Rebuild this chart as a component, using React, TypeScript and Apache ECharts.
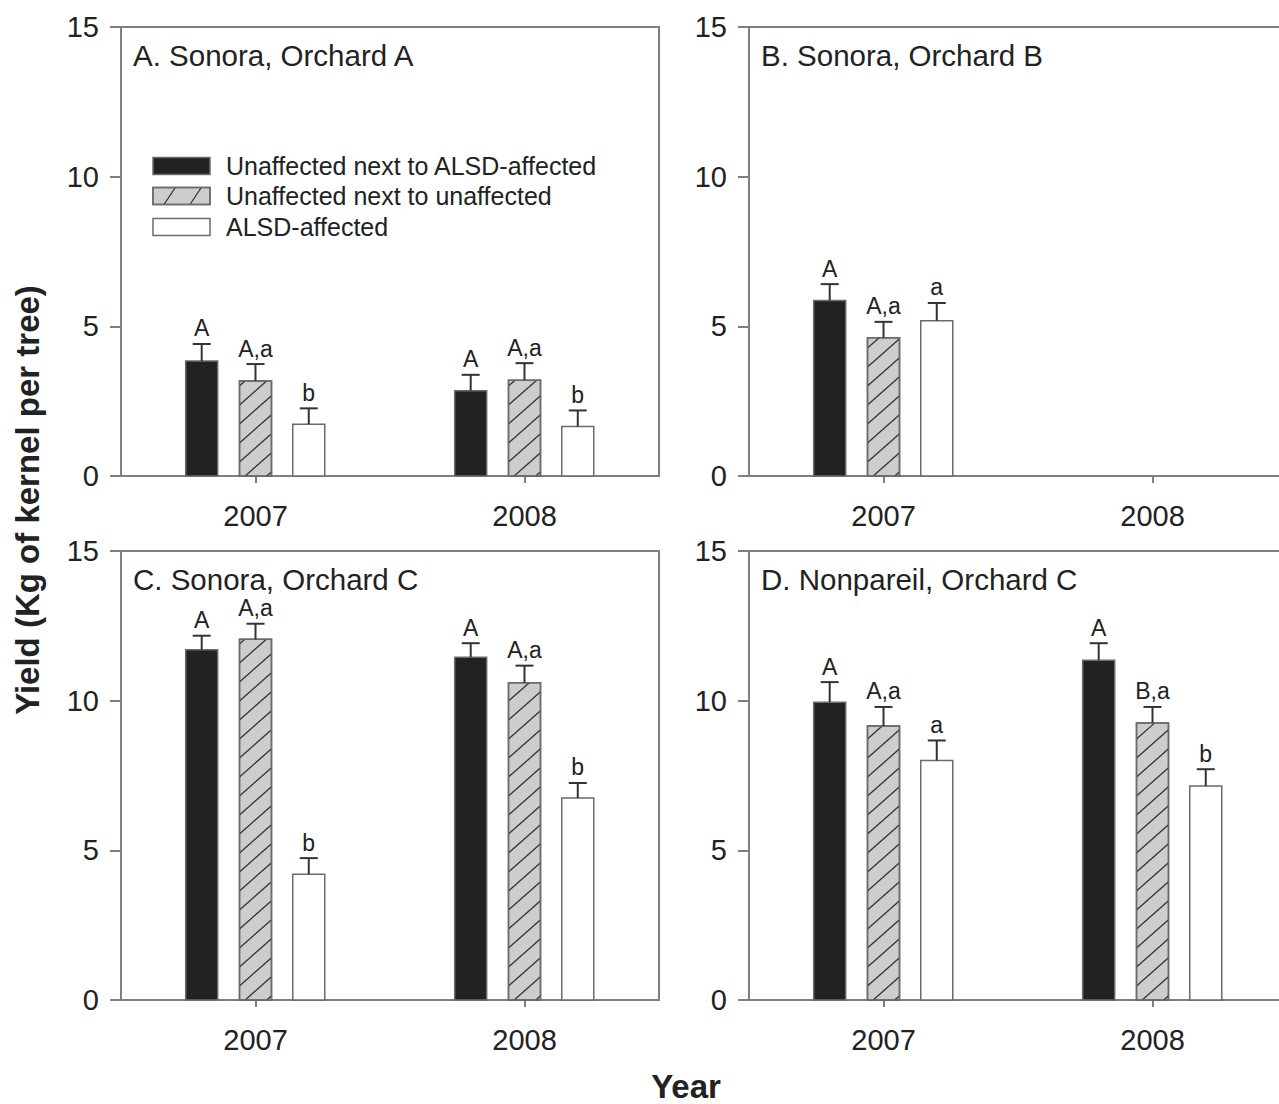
import React, { useEffect, useRef } from "react";
import * as echarts from "echarts";

const years = ["2007", "2008"];
const treatments = [
  "Unaffected next to ALSD-affected",
  "Unaffected next to unaffected",
  "ALSD-affected",
];
const panelTitles = [
  "A. Sonora, Orchard A",
  "B. Sonora, Orchard B",
  "C. Sonora, Orchard C",
  "D. Nonpareil, Orchard C",
];
const yMin = 0;
const yMax = 15;
const yInterval = 5;

// rows: treatment, columns: year
const aMeans = [[3.84, 2.85], [3.17, 3.2], [1.73, 1.65]];
const aErrors = [[0.57, 0.53], [0.57, 0.57], [0.53, 0.54]];
const aLetters = [["A", "A"], ["A,a", "A,a"], ["b", "b"]];

const bMeans = [[5.86, null], [4.62, null], [5.19, null]];
const bErrors = [[0.55, null], [0.53, null], [0.59, null]];
const bLetters = [["A", ""], ["A,a", ""], ["a", ""]];

const cMeans = [[11.7, 11.45], [12.05, 10.6], [4.2, 6.75]];
const cErrors = [[0.47, 0.47], [0.52, 0.57], [0.54, 0.5]];
const cLetters = [["A", "A"], ["A,a", "A,a"], ["b", "b"]];

const dMeans = [[9.95, 11.35], [9.15, 9.25], [8.0, 7.15]];
const dErrors = [[0.67, 0.57], [0.64, 0.54], [0.67, 0.56]];
const dLetters = [["A", "A"], ["A,a", "B,a"], ["a", "b"]];

const panels = [
  { means: aMeans, errors: aErrors, letters: aLetters },
  { means: bMeans, errors: bErrors, letters: bLetters },
  { means: cMeans, errors: cErrors, letters: cLetters },
  { means: dMeans, errors: dErrors, letters: dLetters },
];

const FONT = "'Liberation Sans', Arial, sans-serif";
const AXIS_COLOR = "#7f7f7f";
const TEXT_COLOR = "#222";
const fills = ["#222222", "#cdcdcd", "#ffffff"];
const barOffsets = [-0.2, 0, 0.198];
const barWidthFrac = 0.119;

const gridBoxes = [
  { left: 121, top: 27 },
  { left: 749, top: 27 },
  { left: 121, top: 551 },
  { left: 749, top: 551 },
];
const GRID_W = 538;
const GRID_H = 449;

function hatchLines(x0: number, yT: number, x1: number, yB: number, step: number, start: number, k: number) {
  const out: number[][] = [];
  for (let c = yB + start; c > yT; c -= step) {
    const xa = Math.max(x0, x0 + (c - yB) / k);
    const xb = Math.min(x1, x0 + (c - yT) / k);
    if (xb - xa > 0.5) out.push([xa, c - k * (xa - x0), xb, c - k * (xb - x0)]);
  }
  return out;
}

function makeRenderItem(letters: string[][]) {
  return (params: any, api: any) => {
    const cat = api.value(0);
    const t = api.value(1);
    const mean = api.value(2);
    const err = api.value(3);
    const band = api.size([1, 0])[0];
    const base = api.coord([cat, 0]);
    const cx = base[0] + barOffsets[t] * band;
    const w = barWidthFrac * band;
    const x0 = cx - w / 2;
    const x1 = cx + w / 2;
    const yB = base[1];
    const yT = api.coord([cat, mean])[1];
    const yE = api.coord([cat, mean + err])[1];
    const children: any[] = [
      {
        type: "rect",
        shape: { x: x0, y: yT, width: w, height: yB - yT },
        style: { fill: fills[t], stroke: "#6b6b6b", lineWidth: 1.5 },
      },
    ];
    if (t === 1) {
      hatchLines(x0, yT, x1, yB, 19, 24, 0.88).forEach((l) => {
        children.push({
          type: "line",
          shape: { x1: l[0], y1: l[1], x2: l[2], y2: l[3] },
          style: { stroke: "#333", lineWidth: 1.3 },
        });
      });
      children.push({
        type: "rect",
        shape: { x: x0, y: yT, width: w, height: yB - yT },
        style: { fill: "none", stroke: "#6b6b6b", lineWidth: 1.5 },
      });
    }
    children.push({
      type: "line",
      shape: { x1: cx, y1: yT, x2: cx, y2: yE },
      style: { stroke: "#333", lineWidth: 2 },
    });
    children.push({
      type: "line",
      shape: { x1: cx - 9, y1: yE, x2: cx + 9, y2: yE },
      style: { stroke: "#333", lineWidth: 2 },
    });
    const label = letters[t][cat];
    if (label) {
      children.push({
        type: "text",
        x: cx,
        y: yE - 4,
        style: {
          text: label,
          fill: TEXT_COLOR,
          font: `23px ${FONT}`,
          textAlign: "center",
          textVerticalAlign: "bottom",
        },
      });
    }
    return { type: "group", children };
  };
}

function buildOption() {
  const grid = gridBoxes.map((g) => ({
    left: g.left,
    top: g.top,
    width: GRID_W,
    height: GRID_H,
    show: true,
    borderColor: AXIS_COLOR,
    borderWidth: 2,
    backgroundColor: "transparent",
    containLabel: false,
    outerBoundsMode: "none",
  }));
  const xAxis = gridBoxes.map((_, i) => ({
    type: "category",
    gridIndex: i,
    data: years,
    axisLine: { show: true, lineStyle: { color: AXIS_COLOR, width: 2 } },
    axisTick: { show: true, alignWithLabel: true, length: 7, lineStyle: { color: AXIS_COLOR, width: 2 } },
    axisLabel: { fontSize: 29, color: TEXT_COLOR, margin: 25, fontFamily: FONT },
    splitLine: { show: false },
  }));
  const yAxis = gridBoxes.map((_, i) => ({
    type: "value",
    gridIndex: i,
    min: yMin,
    max: yMax,
    interval: yInterval,
    axisLine: { show: true, lineStyle: { color: AXIS_COLOR, width: 2 } },
    axisTick: { show: true, length: 11, lineStyle: { color: AXIS_COLOR, width: 2 } },
    axisLabel: { fontSize: 29, color: TEXT_COLOR, margin: 22, fontFamily: FONT },
    splitLine: { show: false },
  }));
  const series = panels.map((p, i) => {
    const data: number[][] = [];
    p.means.forEach((row, t) => {
      row.forEach((m, c) => {
        if (m !== null && m !== undefined) data.push([c, t, m as number, p.errors[t][c] as number]);
      });
    });
    return {
      type: "custom",
      xAxisIndex: i,
      yAxisIndex: i,
      coordinateSystem: "cartesian2d",
      encode: { x: 0, y: 2 },
      data,
      renderItem: makeRenderItem(p.letters),
      silent: true,
    };
  });

  const graphic: any[] = [];
  panelTitles.forEach((title, i) => {
    graphic.push({
      type: "text",
      left: gridBoxes[i].left + 12,
      top: gridBoxes[i].top + 13,
      style: { text: title, fill: TEXT_COLOR, font: `29.5px ${FONT}` },
    });
  });
  // legend in panel A
  const legX = 153;
  const legW = 57;
  const legH = 17;
  const legRows = [166, 196, 227];
  treatments.forEach((name, t) => {
    const yc = legRows[t];
    const yT = yc - legH / 2;
    graphic.push({
      type: "rect",
      shape: { x: legX, y: yT, width: legW, height: legH },
      style: { fill: fills[t], stroke: "#6b6b6b", lineWidth: 1.5 },
    });
    if (t === 1) {
      hatchLines(legX, yT, legX + legW, yT + legH, 39, 55.5, 1.5).forEach((l) => {
        graphic.push({
          type: "line",
          shape: { x1: l[0], y1: l[1], x2: l[2], y2: l[3] },
          style: { stroke: "#333", lineWidth: 1.3 },
        });
      });
      graphic.push({
        type: "rect",
        shape: { x: legX, y: yT, width: legW, height: legH },
        style: { fill: "none", stroke: "#6b6b6b", lineWidth: 1.5 },
      });
    }
    graphic.push({
      type: "text",
      x: 226,
      y: yc,
      style: { text: name, fill: TEXT_COLOR, font: `25px ${FONT}`, textVerticalAlign: "middle" },
    });
  });
  graphic.push({
    type: "text",
    x: 27,
    y: 500,
    rotation: Math.PI / 2,
    style: {
      text: "Yield (Kg of kernel per tree)",
      fill: TEXT_COLOR,
      font: `bold 33px ${FONT}`,
      textAlign: "center",
      textVerticalAlign: "middle",
    },
  });
  graphic.push({
    type: "text",
    x: 686,
    y: 1086,
    style: {
      text: "Year",
      fill: TEXT_COLOR,
      font: `bold 33px ${FONT}`,
      textAlign: "center",
      textVerticalAlign: "middle",
    },
  });

  return {
    animation: false,
    backgroundColor: "#ffffff",
    textStyle: { fontFamily: FONT },
    grid,
    xAxis,
    yAxis,
    series,
    graphic,
  };
}

export default function App() {
  const ref = useRef<HTMLDivElement>(null);
  useEffect(() => {
    document.body.style.margin = "0";
    if (!ref.current) return;
    const chart = echarts.init(ref.current, null, { renderer: "svg" });
    chart.setOption(buildOption() as any);
    return () => chart.dispose();
  }, []);
  return <div ref={ref} style={{ width: 1279, height: 1104 }} />;
}
